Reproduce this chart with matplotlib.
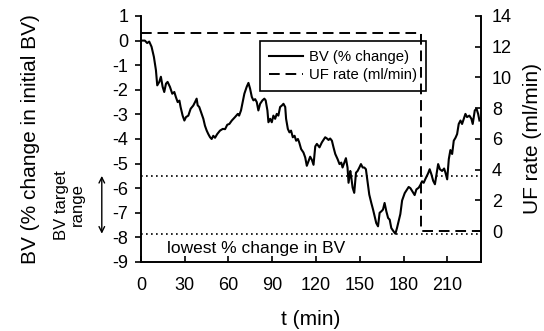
import matplotlib
matplotlib.use("Agg")
import matplotlib.pyplot as plt

plt.rcParams['font.family'] = ['Liberation Sans', 'DejaVu Sans']
plt.rcParams['axes.unicode_minus'] = False

# Blood volume (% change from initial) over the session
t_min = [0, 2.7, 4.3, 5.7, 7.3, 8.9, 10.3, 11.2, 12.6, 13.7, 14.9, 16, 17.2, 18.3,
         19.9, 21.5, 22.9, 24, 25.2, 26.4, 27.2, 28.6, 29.8, 30.9, 32.5, 34.1, 35.9,
         37.1, 38.2, 38.9, 40, 41.2, 42.8, 43.9, 45.1, 46.2, 47.4, 48.5, 49.6, 50.8,
         52.3, 54.2, 56.1, 57.7, 59.2, 60.6, 62.3, 64.5, 66.4, 67.3, 68.6, 69.5, 70.9,
         72.5, 73.7, 74.8, 76, 77.1, 78.3, 79.4, 80.5, 81.7, 83.3, 84.6, 85.5, 86.7,
         87.4, 88.6, 89.7, 90.8, 92, 93.1, 94.2, 95.4, 96.6, 97.7, 98.9, 99.5, 100.7,
         101.8, 102.9, 104.1, 105.3, 106.4, 107.6, 108.5, 109.8, 111.4, 112.6, 113.7,
         114.9, 116, 117.2, 118.3, 119.5, 120.6, 122.4, 124, 126.3, 127.5, 128.6,
         129.7, 130.9, 132, 133.2, 134.8, 136.1, 137.3, 138.2, 139.4, 140.5, 141.6,
         142.3, 143.5, 144.2, 145.1, 146.2, 147.4, 148.5, 149.7, 150.8, 152, 153.1,
         154.2, 155.4, 156.5, 157.9, 159.1, 160.2, 161.3, 162.5, 163.6, 164.8, 165.9,
         167, 168.2, 169.4, 170.5, 171.6, 173.2, 174.4, 175.5, 176.6, 177.8, 179,
         180.8, 182.4, 183.5, 184.7, 186.3, 187.6, 188.8, 190.4, 191.5, 192.7, 193.8,
         195, 196.8, 197.9, 199.1, 200.3, 201.5, 202.6, 203.7, 204.9, 206.4, 207.8,
         208.7, 209.9, 211, 212.1, 213.3, 214.4, 215.6, 216.7, 217.8, 219, 220.1,
         221.3, 222.4, 223.5, 225.1, 226.5, 227.4, 228.8, 230, 231.1, 232]
bv_change = [0, 0, -0.1, -0.04, -0.25, -0.66, -1.2, -1.82, -1.68, -1.47, -1.88, -2.09,
             -1.75, -1.68, -1.88, -2.16, -2.09, -2.3, -2.5, -2.44, -2.7, -3.05, -3.25,
             -3.11, -3.05, -2.77, -2.64, -2.5, -2.36, -2.63, -2.7, -2.91, -3.18, -3.46,
             -3.66, -3.8, -3.93, -4.0, -3.87, -3.95, -3.8, -3.66, -3.59, -3.6, -3.42,
             -3.39, -3.25, -3.11, -2.98, -3.05, -2.84, -2.57, -2.16, -1.88, -1.72,
             -1.95, -2.29, -2.43, -2.38, -2.5, -2.84, -2.57, -2.43, -2.36, -2.43,
             -2.84, -3.32, -3.18, -3.32, -3.05, -3.18, -2.98, -3.05, -2.7, -2.64,
             -2.57, -2.7, -3.18, -3.59, -3.73, -3.66, -3.93, -3.87, -4.07, -4.0,
             -4.14, -4.41, -4.55, -4.75, -5.09, -4.89, -4.72, -4.85, -5.05, -4.3,
             -4.2, -4.34, -4.14, -3.93, -3.98, -4.04, -3.98, -4.07, -4.34, -4.61,
             -4.82, -5.02, -4.96, -5.16, -4.96, -4.78, -5.16, -5.78, -5.3, -5.57,
             -5.98, -6.19, -5.37, -5.3, -5.16, -5.02, -5.16, -5.16, -5.23, -5.78,
             -6.26, -6.6, -6.87, -7.14, -7.42, -7.55, -7.0, -6.94, -6.87, -6.6,
             -6.94, -7.21, -7.28, -7.62, -7.76, -7.85, -7.62, -7.35, -7.05, -6.5,
             -6.2, -6.05, -5.95, -6.0, -6.15, -6.28, -6.05, -5.98, -5.87, -5.72,
             -5.78, -5.62, -5.4, -5.23, -5.44, -5.7, -5.84, -5.44, -5.02, -5.23,
             -5.3, -5.2, -5.37, -5.64, -4.82, -4.45, -4.61, -4.07, -3.95, -3.8,
             -3.39, -3.25, -3.39, -3.18, -2.98, -3.11, -3.05, -3.18, -3.39, -2.84,
             -2.77, -2.98, -3.25]

# Ultrafiltration rate (step profile)
uf_t = [0, 192, 192, 233]
uf_rate = [12.9, 12.9, 0, 0]

bv_target_upper = -5.5
bv_lowest = -7.85

x_ticks = [0, 30, 60, 90, 120, 150, 180, 210]
bv_ticks = list(range(-9, 2))
uf_ticks = list(range(0, 15, 2))

fig = plt.figure(figsize=(5.44, 3.31), dpi=100)
ax = fig.add_axes([0.259, 0.2085, 0.625, 0.7432])
ax2 = ax.twinx()

bv_line, = ax.plot(t_min, bv_change, color='black', lw=1.5, label='BV (% change)')
uf_line, = ax2.plot(uf_t, uf_rate, color='black', lw=1.4, dashes=(5.5, 3),
                    label='UF rate (ml/min)')

for level in (bv_target_upper, bv_lowest):
    ax.axhline(level, color='black', lw=1.2, ls=(0, (1, 2)))

ax.set_xlim(0, 233)
ax.set_ylim(-9, 1)
ax2.set_ylim(-2, 14)
ax.set_xticks(x_ticks)
ax.set_yticks(bv_ticks)
ax2.set_yticks(uf_ticks)

for a in (ax, ax2):
    a.spines['top'].set_visible(False)
    for s in a.spines.values():
        s.set_linewidth(1.2)
ax.tick_params(axis='x', direction='in', length=4, width=1.2, labelsize=13, pad=11)
ax.tick_params(axis='y', direction='out', length=4, width=1.2, labelsize=13, pad=5)
ax2.tick_params(axis='y', direction='in', length=4, width=1.2, labelsize=13, pad=8)

ax.set_xlabel('t (min)', fontsize=15, labelpad=11)
ax.set_ylabel('BV (% change in initial BV)', fontsize=15, labelpad=52)
ax2.set_ylabel('UF rate (ml/min)', fontsize=15, labelpad=8)

ax.text(18, -8.45, 'lowest % change in BV', fontsize=12.5, va='center', ha='left')

# double-headed arrow marking the target range
ax.annotate('', xy=(-0.115, bv_lowest), xytext=(-0.115, bv_target_upper),
            xycoords=('axes fraction', 'data'), textcoords=('axes fraction', 'data'),
            arrowprops=dict(arrowstyle='<->', color='black', lw=1.0,
                            shrinkA=0, shrinkB=0), annotation_clip=False)
ax.text(-0.21, (bv_target_upper + bv_lowest) / 2, 'BV target\nrange',
        transform=ax.get_yaxis_transform(), rotation=90, ha='center', va='center',
        fontsize=12, linespacing=1.05, clip_on=False)

leg = ax.legend(handles=[bv_line, uf_line], loc='upper left',
                bbox_to_anchor=(0.35, 0.898), fontsize=10.7, frameon=True,
                fancybox=False, edgecolor='black', framealpha=1,
                handlelength=2.3, handletextpad=0.4, borderpad=0.6,
                labelspacing=0.3, borderaxespad=0)
leg.get_frame().set_linewidth(1.2)

fig.savefig('out.png', dpi=100)
